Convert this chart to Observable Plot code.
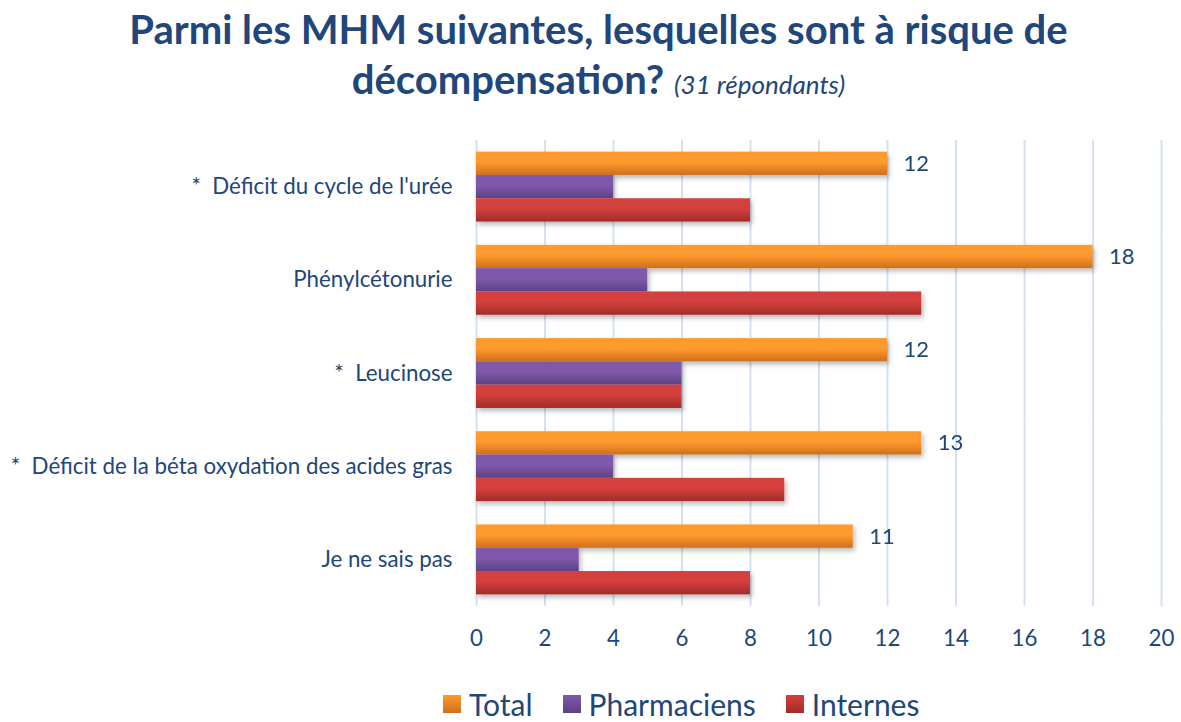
<!DOCTYPE html>
<html><head><meta charset="utf-8">
<script src="https://cdn.jsdelivr.net/npm/d3@7"></script>
<script src="https://cdn.jsdelivr.net/npm/@observablehq/plot@0.6"></script>
<style>
body{margin:0;background:#fff;font-family:Lato,"Open Sans",sans-serif;width:1181px;height:722px;overflow:hidden;}
#title{height:110px;text-align:center;color:#21467a;font-weight:bold;font-size:40px;line-height:50px;padding-top:4px;padding-left:16px;box-sizing:border-box;}
#title .sub{font-weight:normal;font-style:italic;font-size:26px;}
#chart{height:546px;}
#legend{display:flex;justify-content:flex-start;align-items:center;gap:30px;margin-top:30px;padding-left:443px;color:#21467a;font-size:30px;line-height:36px;}
#legend .item{display:flex;align-items:center;gap:8px;}
#legend .sw{width:18px;height:18px;display:inline-block;}
</style></head><body>
<div id="title">Parmi les MHM suivantes, lesquelles sont à risque de<br>décompensation? <span class="sub">(31 répondants)</span></div>
<div id="chart"></div>
<div id="legend"></div>
<script>
const categories = [
  "*\u00a0\u00a0Déficit du cycle de l'urée",
  "Phénylcétonurie",
  "*\u00a0\u00a0Leucinose",
  "*\u00a0\u00a0Déficit de la béta oxydation des acides gras",
  "Je ne sais pas"
];
const series = ["Total", "Pharmaciens", "Internes"];
const totalValues = [12, 18, 12, 13, 11];
const pharmaciensValues = [4, 5, 6, 4, 3];
const internesValues = [8, 13, 6, 9, 8];
const xTicks = [0, 2, 4, 6, 8, 10, 12, 14, 16, 18, 20];

const gradientStops = [
  ["#ff9a2e", "#cf6f1d"],
  ["#8059ab", "#5c4284"],
  ["#d43f3c", "#a12c2a"]
];
const textColor = "#21467a";

const seriesValues = [totalValues, pharmaciensValues, internesValues];
const rows = [];
categories.forEach((c, i) => {
  series.forEach((s, j) => rows.push({category: c, series: s, value: seriesValues[j][i]}));
});

const chart = Plot.plot({
  width: 1181,
  height: 546,
  marginLeft: 476,
  marginRight: 20,
  marginTop: 30,
  marginBottom: 50,
  style: {fontFamily: "Lato, 'Open Sans', sans-serif", fontSize: "22.3px", color: textColor, background: "white"},
  x: {domain: [0, 20], ticks: xTicks, tickSize: 0, tickPadding: 24, label: null},
  fy: {domain: categories, padding: 0, round: false, label: null, tickSize: 0, tickPadding: 24, axis: "left"},
  y: {domain: series, paddingInner: 0, paddingOuter: 0.5, round: false, axis: null},
  color: {domain: series, range: series.map((s, i) => `url(#grad${i})`)},
  marks: [
    Plot.gridX(xTicks, {stroke: "#d5e1f1", strokeOpacity: 1, strokeWidth: 2}),
    Plot.barX(rows, {fy: "category", y: "series", x: "value", fill: "series", inset: 0}),
    Plot.text(rows.filter(d => d.series === "Total"), {fy: "category", y: "series", x: "value", text: d => String(d.value), dx: 16, textAnchor: "start", fill: textColor, fontSize: 22})
  ]
});

const svg = d3.select(chart);
const defs = svg.insert("defs", ":first-child");
gradientStops.forEach((st, i) => {
  const g = defs.append("linearGradient").attr("id", `grad${i}`).attr("x1", 0).attr("y1", 0).attr("x2", 0).attr("y2", 1);
  g.append("stop").attr("offset", "0%").attr("stop-color", st[0]);
  g.append("stop").attr("offset", "45%").attr("stop-color", st[0]);
  g.append("stop").attr("offset", "100%").attr("stop-color", st[1]);
});
const f = defs.append("filter").attr("id", "shadow").attr("x", "-5%").attr("y", "-20%").attr("width", "115%").attr("height", "160%");
f.append("feDropShadow").attr("dx", 2).attr("dy", 3).attr("stdDeviation", 2.5).attr("flood-color", "#000").attr("flood-opacity", 0.28);
svg.selectAll("g[aria-label='bar']").attr("filter", "url(#shadow)");
svg.selectAll("g[aria-label='fy-axis tick label'] text, g[aria-label='x-axis tick label'] text").attr("fill", textColor);

document.getElementById("chart").appendChild(chart);

const legend = d3.select("#legend");
series.forEach((s, i) => {
  const it = legend.append("div").attr("class", "item");
  it.append("span").attr("class", "sw").style("background", `linear-gradient(${gradientStops[i][0]}, ${gradientStops[i][1]})`);
  it.append("span").text(s);
});
</script>
</body></html>
